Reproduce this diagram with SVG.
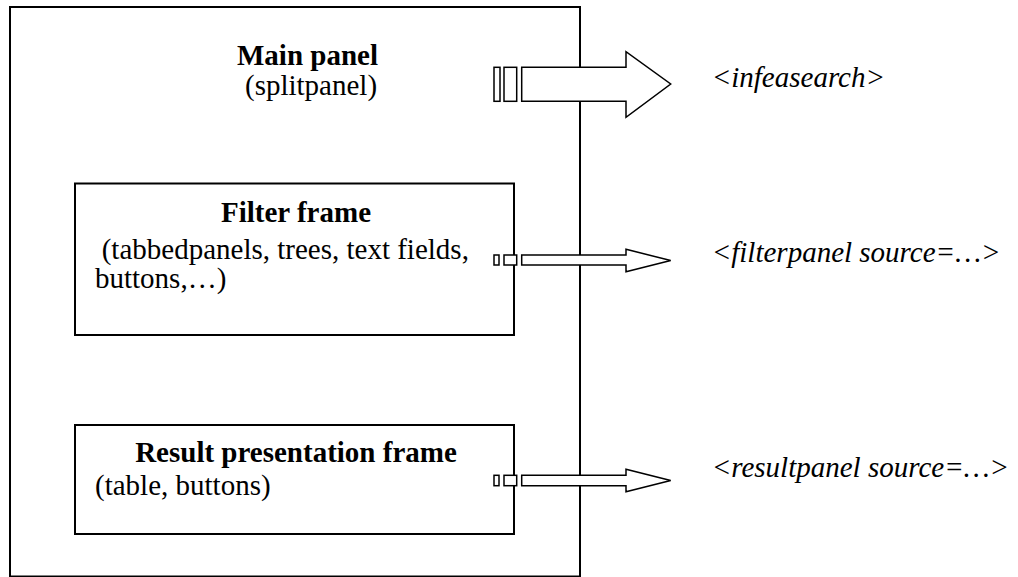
<svg xmlns="http://www.w3.org/2000/svg" width="1018" height="577" viewBox="0 0 1018 577">
  <style>
    .frame { fill: #ffffff; stroke: #000000; stroke-width: 2; }
    .arrow { fill: #ffffff; stroke: #000000; stroke-width: 1.5; stroke-linejoin: miter; }
    .t { font-family: "Liberation Serif", "Times New Roman", serif; font-size: 29px; fill: #000000; }
    .b { font-weight: bold; }
    .i { font-style: italic; }
  </style>
  <rect width="1018" height="577" fill="#ffffff"/>
  <g id="main-panel">
    <rect class="frame" x="10" y="7" width="570" height="569.5"/>
    <text class="t b" x="237" y="65">Main panel</text>
    <text class="t" x="245" y="95">(splitpanel)</text>
  </g>
  <g id="filter-frame">
    <rect class="frame" x="75" y="183.5" width="439" height="151.5"/>
    <text class="t b" x="296" y="221.7" text-anchor="middle">Filter frame</text>
    <text class="t" x="101.7" y="258.5">(tabbedpanels, trees, text fields,</text>
    <text class="t" x="95" y="287.5">buttons,…)</text>
  </g>
  <g id="result-frame">
    <rect class="frame" x="75" y="425" width="439" height="109"/>
    <text class="t b" x="296" y="462" text-anchor="middle">Result presentation frame</text>
    <text class="t" x="95" y="495">(table, buttons)</text>
  </g>
  <g id="connectors">
    <g id="arrow-main">
      <rect class="arrow" x="494" y="67.3" width="6" height="34"/>
      <rect class="arrow" x="504" y="67.3" width="12.7" height="34"/>
      <polygon class="arrow" points="521.7,67.3 626,67.3 626,51.7 670.7,84 626,117.3 626,101.3 521.7,101.3"/>
    </g>
    <g id="arrow-filter">
      <rect class="arrow" x="494" y="255" width="5" height="10"/>
      <rect class="arrow" x="504" y="255" width="12.7" height="10"/>
      <polygon class="arrow" points="521.7,255 626,255 626,249.3 670.7,260.5 626,271.7 626,265 521.7,265"/>
    </g>
    <g id="arrow-result">
      <rect class="arrow" x="494" y="475.3" width="5" height="10.4"/>
      <rect class="arrow" x="504" y="475.3" width="12.7" height="10.4"/>
      <polygon class="arrow" points="521.7,475.3 626,475.3 626,469.3 670.7,480.5 626,491.7 626,485.7 521.7,485.7"/>
    </g>
  </g>
  <g id="labels">
    <text class="t i" x="711.7" y="86.7">&lt;infeasearch&gt;</text>
    <text class="t i" x="711.7" y="261.7">&lt;filterpanel source=…&gt;</text>
    <text class="t i" x="711.7" y="477">&lt;resultpanel source=…&gt;</text>
  </g>
</svg>
